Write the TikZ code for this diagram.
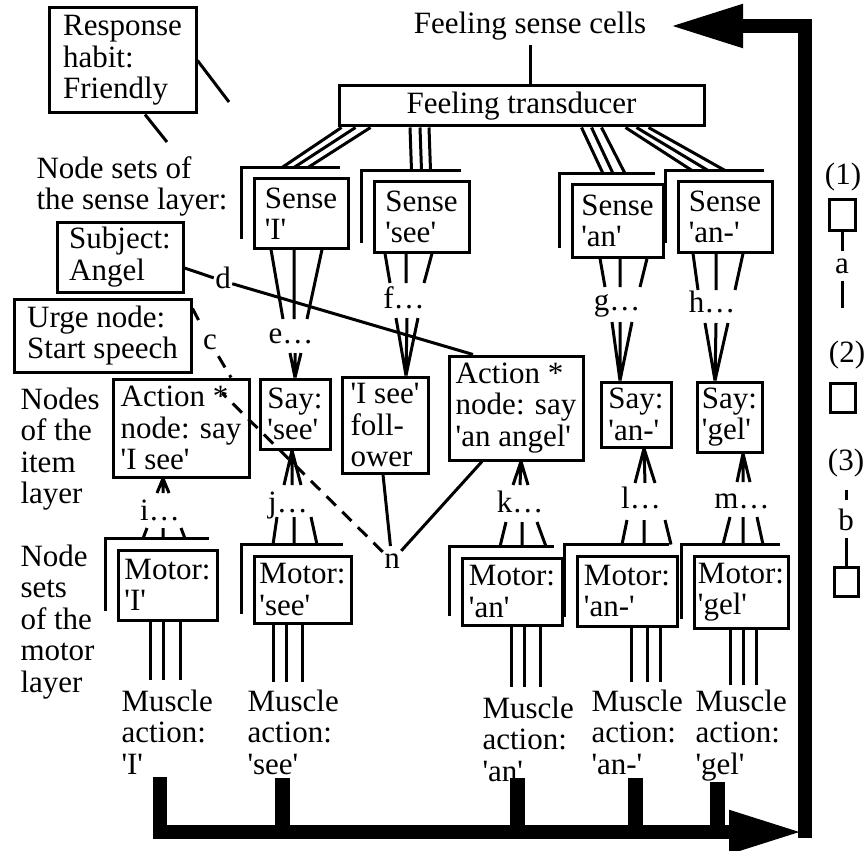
\documentclass[tikz,border=0pt]{standalone}
\usepackage{fontspec}
\setmainfont{Liberation Serif}[Ligatures=TeXOff]
\usepackage{tikz}
\usetikzlibrary{arrows.meta}

\tikzset{
  box/.style={draw, inner sep=1pt, align=left},
  lbl/.style={inner sep=0pt, text height=21pt, text depth=6pt},
  txt/.style={inner sep=0pt, align=left, anchor=north west},
  dashlink/.style={dash pattern=on 13pt off 9pt},
  flow/.style={line width=14pt, -{Triangle[length=74pt,width=40pt]}},
  stub/.style={line width=15pt}
}

\begin{document}
\begin{tikzpicture}[x=1pt, y=-1pt, line width=3pt, font=\fontsize{31}{31.5}\selectfont]

            \useasboundingbox (0,0) rectangle (866,850);
            %\draw [help lines, step=50] (0,0) grid (866,850);

            \path   (530,26) node (cells) {Feeling sense cells}
                    (521.5,106) node (trans) [box, minimum width=365pt, minimum height=40pt] {Feeling transducer}
                    (122.5,60.5) node (resp) [box, minimum width=147pt, minimum height=105pt] {Response\\habit:\\Friendly}
                    (301,213.5) node (sI) [box, minimum width=94pt, minimum height=69pt] {Sense\\'I'}
                    (421.5,217) node (ssee) [box, minimum width=95pt, minimum height=70pt] {Sense\\'see'}
                    (617.5,221) node (san) [box, minimum width=91pt, minimum height=72pt] {Sense\\'an'}
                    (725,217) node (sanx) [box, minimum width=94pt, minimum height=70pt] {Sense\\'an-'}
                    (120,257) node (subj) [box, minimum width=126pt, minimum height=70pt] {Subject:\\Angel}
                    (102.5,335.5) node (urge) [box, minimum width=177pt, minimum height=73pt] {Urge node:\\Start speech}
                    (181,428) node (actI) [box, minimum width=136pt, minimum height=98pt] {Action *\\node: say\\'I see'}
                    (295,414) node (saysee) [box, minimum width=70pt, minimum height=70pt] {Say:\\'see'}
                    (385,425) node (foll) [box, minimum width=86pt, minimum height=96pt] {'I see'\\foll-\\ower}
                    (516,408) node (actan) [box, minimum width=134pt, minimum height=104pt] {Action *\\node: say\\'an angel'}
                    (636,414.5) node (sayanx) [box, minimum width=70pt, minimum height=65pt] {Say:\\'an-'}
                    (729.5,417) node (saygel) [box, minimum width=65pt, minimum height=70pt] {Say:\\'gel'}
                    (167.5,585) node (mI) [box, minimum width=99pt, minimum height=70pt] {Motor:\\'I'}
                    (302.5,589.5) node (msee) [box, minimum width=97pt, minimum height=67pt] {Motor:\\'see'}
                    (512,591.5) node (man) [box, minimum width=100pt, minimum height=67pt] {Motor:\\'an'}
                    (627,591) node (manx) [box, minimum width=100pt, minimum height=70pt] {Motor:\\'an-'}
                    (741,592) node (mgel) [box, minimum width=94pt, minimum height=72pt] {Motor:\\'gel'};

            \path   (35,155) node (sensetxt) [txt] {Node sets of\\the sense layer:}
                    (19,386) node (itemtxt) [txt] {Nodes\\of the\\item\\layer}
                    (19,543) node (motortxt) [txt] {Node\\sets\\of the\\motor\\layer}
                    (120,688) node (musI) [txt] {Muscle\\action:\\'I'}
                    (246,688) node (mussee) [txt] {Muscle\\action:\\'see'}
                    (481,695) node (musan) [txt] {Muscle\\action:\\'an'}
                    (590,688) node (musanx) [txt] {Muscle\\action:\\'an-'}
                    (694,688) node (musgel) [txt] {Muscle\\action:\\'gel'};

            \path   (291,336) node (e) [lbl] {e\ldots}
                    (404,301) node (f) [lbl] {f\ldots}
                    (617,303) node (g) [lbl] {g\ldots}
                    (712,305) node (h) [lbl] {h\ldots}
                    (160,513) node (i) [lbl] {i\ldots}
                    (288,505) node (j) [lbl] {j\ldots}
                    (520,505) node (k) [lbl] {k\ldots}
                    (641,501) node (l) [lbl] {l\ldots}
                    (742,501) node (m) [lbl] {m\ldots}
                    (392,561) node (n) [lbl] {n}
                    (210,342) node (c) [lbl] {c}
                    (223,281) node (d) [lbl] {d};

            % legend
            \path   (843,177.5) node (l1) [lbl] {(1)}
                    (842,215) node (b1) [box, minimum width=26pt, minimum height=30pt] {}
                    (842,265.5) node (a) [lbl] {a}
                    (847,354.5) node (l2) [lbl] {(2)}
                    (842.5,397.5) node (b2) [box, minimum width=25pt, minimum height=29pt] {}
                    (846,462.5) node (l3) [lbl] {(3)}
                    (846,522.5) node (b) [lbl] {b}
                    (846,581.5) node (b3) [box, minimum width=24pt, minimum height=29pt] {};

            \coordinate (habit1) at (229,102);
            \coordinate (habit2) at (167,142);
            \coordinate (aend) at (842,308);
            \coordinate (loopin) at (803,832);
            \coordinate (loopbot) at (805,838);

            % node set brackets
            \draw ([shift={(-11,-11)}]sI.south west) |- ([shift={(-10,-10)}]sI.north east);
            \draw ([shift={(-11,-11)}]ssee.south west) |- ([shift={(-10,-10)}]ssee.north east);
            \draw ([shift={(-11,-11)}]san.south west) |- ([shift={(-10,-10)}]san.north east);
            \draw ([shift={(-11,-11)}]sanx.south west) |- ([shift={(-10,-10)}]sanx.north east);
            \draw ([shift={(-11,-11)}]mI.south west) |- ([shift={(-10,-10)}]mI.north east);
            \draw ([shift={(-11,-11)}]msee.south west) |- ([shift={(-10,-10)}]msee.north east);
            \draw ([shift={(-11,-11)}]man.south west) |- ([shift={(-10,-10)}]man.north east);
            \draw ([shift={(-11,-11)}]manx.south west) |- ([shift={(-10,-10)}]manx.north east);
            \draw ([shift={(-11,-11)}]mgel.south west) |- ([shift={(-10,-10)}]mgel.north east);

            % transducer to sense layer
            \draw (cells.south) -- (cells.south |- trans.north);
            \draw ([xshift=4pt]trans.south west) -- ([shift={(-19,-10)}]sI.north)
                  ([xshift=18pt]trans.south west) -- ([shift={(-7,-10)}]sI.north)
                  ([xshift=33pt]trans.south west) -- ([shift={(7,-10)}]sI.north);
            \draw ([xshift=72.5pt]trans.south west) -- ([shift={(-10,-10)}]ssee.north)
                  ([xshift=82.5pt]trans.south west) -- ([shift={(0,-10)}]ssee.north)
                  ([xshift=91.5pt]trans.south west) -- ([shift={(9,-10)}]ssee.north);
            \draw ([xshift=244pt]trans.south west) -- ([shift={(-14.5,-10)}]san.north)
                  ([xshift=254pt]trans.south west) -- ([shift={(-4.5,-10)}]san.north)
                  ([xshift=264pt]trans.south west) -- ([shift={(7.5,-10)}]san.north);
            \draw ([xshift=288pt]trans.south west) -- ([shift={(-33,-10)}]sanx.north)
                  ([xshift=299pt]trans.south west) -- ([shift={(-17,-10)}]sanx.north)
                  ([xshift=311pt]trans.south west) -- ([shift={(0,-10)}]sanx.north);

            % sense layer to item layer
            \draw ([xshift=-30pt]sI.south) -- ([shift={(-8,-17)}]e.center)
                  ([xshift=-7pt]sI.south) -- ([shift={(3,-17)}]e.center)
                  ([xshift=21pt]sI.south) -- ([shift={(16,-17)}]e.center);
            \draw ([xshift=-36.5pt]ssee.south) -- ([shift={(-14,-18)}]f.center)
                  ([xshift=-15.5pt]ssee.south) -- ([shift={(2,-18)}]f.center)
                  ([xshift=10.5pt]ssee.south) -- ([shift={(20,-18)}]f.center);
            \draw ([xshift=-17.5pt]san.south) -- ([shift={(-12,-16)}]g.center)
                  ([xshift=2.5pt]san.south) -- ([shift={(3,-16)}]g.center)
                  ([xshift=29.5pt]san.south) -- ([shift={(23,-16)}]g.center);
            \draw ([xshift=-32pt]sanx.south) -- ([shift={(-14,-15)}]h.center)
                  ([xshift=-9pt]sanx.south) -- ([shift={(4,-15)}]h.center)
                  ([xshift=18pt]sanx.south) -- ([shift={(23,-15)}]h.center);
            \draw ([shift={(-1,17)}]e.center) -- (saysee.north)
                  ([shift={(4,17)}]e.center) -- (saysee.north)
                  ([shift={(10,17)}]e.center) -- (saysee.north);
            \draw ([shift={(-8,17)}]f.center) -- ([xshift=21pt]foll.north)
                  ([shift={(3,17)}]f.center) -- ([xshift=21pt]foll.north)
                  ([shift={(14,17)}]f.center) -- ([xshift=21pt]foll.north);
            \draw ([shift={(-5,19)}]g.center) -- ([xshift=-16pt]sayanx.north)
                  ([shift={(3,19)}]g.center) -- ([xshift=-16pt]sayanx.north)
                  ([shift={(15,19)}]g.center) -- ([xshift=-16pt]sayanx.north);
            \draw ([shift={(-7,18)}]h.center) -- ([xshift=-14.5pt]saygel.north)
                  ([shift={(4,18)}]h.center) -- ([xshift=-14.5pt]saygel.north)
                  ([shift={(16,18)}]h.center) -- ([xshift=-14.5pt]saygel.north);

            % motor layer to item layer
            \draw ([shift={(-24.5,-10)}]mI.north) -- ([shift={(-13,15)}]i.center)
                  ([shift={(-4.5,-10)}]mI.north) -- ([shift={(3,15)}]i.center)
                  ([shift={(17.5,-10)}]mI.north) -- ([shift={(21,15)}]i.center);
            \draw ([shift={(-29.5,-10)}]msee.north) -- ([shift={(-11,12)}]j.center)
                  ([shift={(-8.5,-10)}]msee.north) -- ([shift={(6,12)}]j.center)
                  ([shift={(14.5,-10)}]msee.north) -- ([shift={(23,12)}]j.center);
            \draw ([shift={(-12,-10)}]man.north) -- ([shift={(-14,17)}]k.center)
                  ([shift={(10,-10)}]man.north) -- ([shift={(2,17)}]k.center)
                  ([shift={(34,-10)}]man.north) -- ([shift={(17,17)}]k.center);
            \draw ([shift={(-5,-10)}]manx.north) -- ([shift={(-14,19)}]l.center)
                  ([shift={(17,-10)}]manx.north) -- ([shift={(3,19)}]l.center)
                  ([shift={(44,-10)}]manx.north) -- ([shift={(24,19)}]l.center);
            \draw ([shift={(-18,-10)}]mgel.north) -- ([shift={(-12,16)}]m.center)
                  ([shift={(2,-10)}]mgel.north) -- ([shift={(1,16)}]m.center)
                  ([shift={(22,-10)}]mgel.north) -- ([shift={(15,16)}]m.center);
            \draw ([shift={(-3,-20)}]i.center) -- ([xshift=-18pt]actI.south)
                  ([shift={(3,-20)}]i.center) -- ([xshift=-18pt]actI.south)
                  ([shift={(9,-20)}]i.center) -- ([xshift=-18pt]actI.south);
            \draw ([shift={(-4,-20)}]j.center) -- ([xshift=-3pt]saysee.south)
                  ([shift={(4,-20)}]j.center) -- ([xshift=-3pt]saysee.south)
                  ([shift={(13,-20)}]j.center) -- ([xshift=-3pt]saysee.south);
            \draw ([shift={(-7,-20)}]k.center) -- ([xshift=5pt]actan.south)
                  ([shift={(0,-20)}]k.center) -- ([xshift=5pt]actan.south)
                  ([shift={(8,-20)}]k.center) -- ([xshift=5pt]actan.south);
            \draw ([shift={(-6,-18)}]l.center) -- ([xshift=8pt]sayanx.south)
                  ([shift={(4,-18)}]l.center) -- ([xshift=8pt]sayanx.south)
                  ([shift={(14,-18)}]l.center) -- ([xshift=8pt]sayanx.south);
            \draw ([shift={(-5,-19)}]m.center) -- ([xshift=13.5pt]saygel.south)
                  ([shift={(1,-19)}]m.center) -- ([xshift=13.5pt]saygel.south)
                  ([shift={(8,-19)}]m.center) -- ([xshift=13.5pt]saygel.south);

            % motor layer to muscles
            \draw ([xshift=-17.5pt]mI.south) -- ([shift={(30,-8)}]musI.north west)
                  ([xshift=-4.5pt]mI.south) -- ([shift={(43,-8)}]musI.north west)
                  ([xshift=12.5pt]mI.south) -- ([shift={(60,-8)}]musI.north west);
            \draw ([xshift=-29.5pt]msee.south) -- ([shift={(27,-6)}]mussee.north west)
                  ([xshift=-16.5pt]msee.south) -- ([shift={(40,-6)}]mussee.north west)
                  ([xshift=-0.5pt]msee.south) -- ([shift={(56,-6)}]mussee.north west);
            \draw ([xshift=-1pt]man.south) -- ([shift={(30,-8)}]musan.north west)
                  ([xshift=12pt]man.south) -- ([shift={(43,-8)}]musan.north west)
                  ([xshift=28pt]man.south) -- ([shift={(59,-8)}]musan.north west);
            \draw ([xshift=4pt]manx.south) -- ([shift={(41,-6)}]musanx.north west)
                  ([xshift=20pt]manx.south) -- ([shift={(57,-6)}]musanx.north west)
                  ([xshift=33pt]manx.south) -- ([shift={(70,-6)}]musanx.north west);
            \draw ([xshift=-11pt]mgel.south) -- ([shift={(36,-3)}]musgel.north west)
                  ([xshift=2pt]mgel.south) -- ([shift={(49,-3)}]musgel.north west)
                  ([xshift=15pt]mgel.south) -- ([shift={(62,-3)}]musgel.north west);

            % other links
            \draw (resp.east) -- (habit1);
            \draw ([xshift=22.5pt]resp.south) -- (habit2);
            \draw ([yshift=-11pt]subj.east) -- (d) -- ([xshift=-43pt]actan.north);
            \draw[dashlink] ([yshift=-11pt]urge.north east) -- (c) -- ([xshift=50pt]actI.north);
            \draw[dashlink] (node cs: name=n) -- ([shift={(41,-35)}]actI.center);
            \draw ([xshift=-2pt]foll.south) -- (node cs: name=n);
            \draw (node cs: name=n) -- ([xshift=-34pt]actan.south);

            % feedback loop
            \draw[stub] ([shift={(36,90)}]mussee.north west) -- ++(0,54);
            \draw[stub] ([shift={(36,83)}]musan.north west) -- ++(0,54);
            \draw[stub] ([shift={(45,90)}]musanx.north west) -- ++(0,54);
            \draw[stub] ([shift={(23,94)}]musgel.north west) -- ++(0,50);
            \draw[flow] ([shift={(40,89)}]musI.north west) |- (loopin);
            \draw[flow] (loopbot) |- ([xshift=18pt]cells.east);

            % legend links
            \draw (b1.south) -- (a);
            \draw (a) -- (aend);
            \draw[shorten <=12pt, shorten >=8pt] (l3) -- (b);
            \draw (b) -- (b3);
        \end{tikzpicture}
\end{document}
